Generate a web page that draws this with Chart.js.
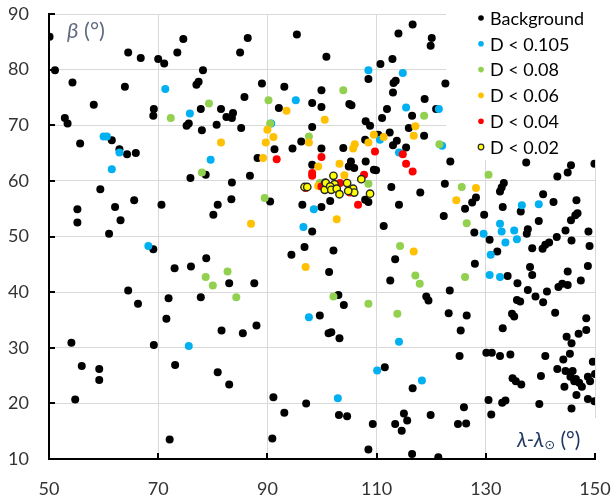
<!DOCTYPE html>
<html>
<head>
<meta charset="utf-8">
<script src="https://cdn.jsdelivr.net/npm/chart.js@4.4.1/dist/chart.umd.min.js"></script>
<style>
html, body { margin: 0; padding: 0; background: #fff; }
#wrap { width: 613px; height: 499px; position: relative; }
</style>
</head>
<body>
<div id="wrap"><canvas id="scatterChart"></canvas></div>
<script>
// axis ranges / ticks
const xRange = [50, 150];
const xStep = 20;
const yRange = [10, 90];
const yStep = 10;

const seriesLabels = ["Background", "D < 0.105", "D < 0.08", "D < 0.06", "D < 0.04", "D < 0.02"];
const seriesColors = ["#000000", "#00B0F0", "#92D050", "#FFC000", "#FF0000", "#FFFF00"];

// [λ-λsun, β] pairs
const background = [
    [50.1,85.9],[74.6,85.5],[64.5,83.1],[66.8,82.1],[70.0,81.9],[71.1,81.1],[73.5,83.1],[51.1,79.9],
    [54.3,77.7],[63.9,76.9],[58.2,73.7],[69.2,72.9],[69.1,71.7],[52.9,71.3],[53.4,70.3],[75.2,69.9],
    [75.6,70.3],[61.5,67.3],[55.7,66.7],[62.9,65.7],[64.3,64.8],[65.9,65.0],
    [75.9,60.5],[59.4,58.5],[55.2,54.9],[55.2,52.5],[62.1,55.3],[65.6,56.5],[70.6,55.7],[63.1,52.9],
    [61.0,50.5],[69.1,47.7],[73.0,44.3],[76.0,44.6],[64.5,40.3],[66.3,37.9],[71.9,38.9],
    [71.5,35.2],[54.1,30.9],[69.2,30.5],[56.0,26.7],[59.2,26.2],[59.2,24.2],[73.1,26.9],[54.8,20.7],[72.1,13.5],
    [86.4,85.7],[85.0,83.1],[95.4,86.3],[100.8,82.3],[78.2,79.9],[77.4,77.8],[77.0,77.3],[89.0,77.5],
    [93.1,76.9],[99.9,76.3],[85.8,75.1],[92.1,73.1],[98.2,74.0],[99.9,73.3],[77.8,72.9],[81.5,72.9],
    [83.7,72.2],[82.5,71.5],[83.5,71.3],[78.0,69.1],[80.7,70.1],[85.2,69.5],[98.2,69.7],[96.2,67.1],
    [94.6,65.8],[91.3,65.7],[99.9,65.8],[88.2,64.1],
    [98.2,62.9],[78.7,61.1],[83.5,59.7],[86.8,60.9],[90.5,56.3],[83.4,56.7],[80.9,55.7],[80.1,53.9],
    [96.4,55.7],[99.9,55.3],[98.2,50.9],[96.8,48.1],[94.4,46.7],[101.3,43.6],[78.8,46.1],[83.0,41.6],
    [87.6,41.6],[77.8,39.1],
    [99.6,35.8],[101.2,32.6],[81.6,33.1],[85.5,32.6],[88.0,34.0],[80.9,25.6],[83.0,23.4],[91.1,21.1],
    [93.1,18.3],[97.1,20.0],[90.9,13.7],
    [116.6,88.1],[114.0,86.5],[120.1,85.7],[119.9,84.3],[110.7,81.0],[112.9,81.9],[108.5,78.3],[113.5,78.0],
    [113.1,77.6],[113.0,75.9],[122.6,77.5],[105.0,73.8],[105.4,73.6],[118.8,74.7],[111.9,72.9],[111.0,71.3],
    [116.5,71.7],[120.9,72.9],[108.0,70.7],[108.8,69.9],[112.4,68.7],[115.9,69.5],[118.7,68.1],[110.3,68.3],
    [107.9,67.4],[103.9,65.9],[113.7,67.2],[113.0,66.4],[115.4,66.0],
    [105.3,63.5],[104.9,62.6],[105.9,62.3],[108.0,63.5],[123.5,63.5],[109.5,62.0],[109.9,61.9],[112.7,58.9],
    [118.0,57.9],[122.5,59.5],[126.2,55.0],[114.1,55.7],[122.3,53.7],[111.3,51.9],[107.9,56.6],[108.5,56.2],
    [101.5,56.4],[102.1,47.5],[113.4,45.9],[112.5,42.1],[103.0,39.5],[104.0,37.7],[119.1,39.2],[119.5,38.5],
    [123.4,40.3],
    [123.2,36.2],[126.5,35.8],[101.7,32.8],[103.2,31.7],[125.4,33.1],[125.2,28.5],[111.5,26.5],[116.6,22.7],
    [103.1,17.9],[104.6,17.7],[109.3,16.3],[113.4,16.3],[115.0,18.2],[115.6,16.9],[114.6,15.1],[119.9,17.9],
    [126.0,19.3],[124.9,16.3],[126.4,16.4],[108.5,11.7],[116.5,10.9],[121.3,10.3],
    [137.4,63.3],[145.6,62.8],[145.0,61.5],[143.1,60.8],[149.9,63.1],[133.3,59.6],[132.9,58.8],[132.6,58.1],
    [128.2,57.0],[127.5,56.1],[133.1,55.3],[140.5,57.6],[142.4,56.2],[146.6,56.5],[146.8,54.2],[146.4,53.8],
    [136.4,54.5],[129.7,53.9],[145.6,52.9],[139.7,52.8],[137.7,51.3],[137.5,50.5],[127.9,50.7],[130.7,49.4],
    [144.6,51.1],[148.8,50.9],[143.0,49.9],[145.7,49.3],[141.6,48.9],[140.9,48.5],[140.4,47.8],[138.5,47.9],
    [149.0,48.3],[132.1,47.3],[128.0,45.1],[138.1,44.5],[138.5,43.1],[145.0,43.7],[148.7,44.7],[134.0,42.9],
    [135.8,41.6],[147.4,42.1],[143.3,40.9],[144.0,41.5],[145.0,41.3],[137.7,40.4],[139.1,39.2],[141.2,40.1],
    [135.7,38.6],[136.3,38.3],[140.5,38.2],
    [134.8,36.1],[135.2,35.6],[142.7,36.3],[133.1,33.5],[148.4,35.3],[148.4,33.2],[147.0,32.5],[144.8,32.0],
    [145.7,30.8],[130.1,29.1],[131.1,29.1],[132.6,28.5],[134.5,28.8],[140.9,28.5],[145.4,28.9],[144.2,27.9],
    [149.6,27.5],[143.1,26.2],[144.6,25.8],[145.9,25.8],[145.5,24.8],[146.5,24.4],[146.2,24.0],[147.1,23.7],
    [147.6,23.0],[148.7,24.8],[150.0,25.3],[149.1,24.0],[144.4,23.0],[140.1,24.9],[134.9,24.5],[135.5,24.0],
    [136.5,23.4],[146.6,21.5],[148.7,20.8],[149.9,20.4],[145.7,19.1],[139.8,19.9],[133.0,20.1],[133.6,20.5],
    [130.5,20.6],[131.0,18.0]
];

const d0105 = [
    [71.3,76.5],[75.8,72.1],[60.0,68.0],[60.6,68.0],[62.9,65.1],[61.5,62.1],[68.2,48.3],[75.6,30.3],
    [95.2,74.5],[90.7,70.3],[79.6,63.8],[98.5,54.9],[96.6,51.7],[97.6,35.5],[108.5,79.9],[114.8,79.4],
    [115.4,73.2],[121.4,72.9],[110.6,67.4],[114.1,65.1],[122.0,66.3],[114.1,31.1],[110.1,25.9],[118.3,24.1],
    [102.9,20.9],[136.6,55.6],[139.7,55.8],[132.6,52.3],[132.9,50.9],[135.2,51.1],[129.6,50.5],[135.7,49.5],
    [133.6,48.9],[130.9,46.7],[130.7,43.1],[132.6,42.7]
];

const d008 = [
    [72.3,71.3],[79.3,73.9],[90.2,74.5],[90.5,70.3],[97.6,68.0],[78.0,61.5],[89.5,56.9],[78.7,42.7],
    [82.7,43.7],[80.0,41.2],[84.3,39.1],[103.9,76.3],[118.7,71.7],[121.5,66.6],[108.5,59.5],[125.6,58.9],
    [126.5,52.4],[114.3,48.3],[117.1,43.0],[117.9,41.5],[126.2,42.7],[102.1,39.2],[108.5,37.9],[113.8,36.1],
    [130.5,61.1],[99.6,59.6]
];

const d006 = [
    [93.5,72.6],[90.0,69.2],[91.1,67.9],[89.7,66.9],[81.5,66.9],[100.5,71.0],[97.6,66.9],[89.2,64.1],
    [99.3,62.6],[87.0,52.3],[97.0,44.5],[117.1,69.8],[116.8,68.1],[109.5,68.3],[111.3,67.9],[108.5,66.9],
    [106.0,66.6],[105.7,65.8],[103.2,63.1],[104.1,61.0],[124.6,56.5],[102.7,53.1],[116.8,47.3],[128.2,58.7],
    [99.3,59.1]
];

const d004 = [
    [99.9,64.3],[91.7,63.9],[98.2,61.4],[98.2,60.9],[109.7,65.3],[114.8,64.8],[115.4,63.1],[116.6,61.7],
    [107.7,61.1],[106.6,55.7],[103.3,59.6],[105.1,57.9],[97.0,58.7],[99.9,59.0]
];

const d002 = [
    [96.8,58.9],[97.3,58.9],[100.6,59.7],[100.5,58.4],[102.1,60.9],[100.7,59.6],[102.3,59.4],[101.5,59.0],
    [101.7,58.4],[102.7,58.6],[103.2,57.6],[104.6,59.6],[105.7,58.6],[105.9,57.9],[104.8,58.2],[107.2,60.3],
    [108.8,57.7]
];

const allSeries = [background, d0105, d008, d006, d004, d002];

const toXY = pts => pts.map(p => ({ x: p[0], y: p[1] }));

const datasets = allSeries.map((pts, i) => ({
    label: seriesLabels[i],
    data: toXY(pts),
    backgroundColor: seriesColors[i],
    borderColor: i === 5 ? "#262626" : seriesColors[i],
    borderWidth: i === 5 ? 1.4 : 0,
    pointRadius: i === 5 ? 3.7 : 4,
    order: 5 - i
}));

// white boxes behind legend and in-plot axis titles, inward tick marks
const overlayPlugin = {
    id: "overlay",
    beforeDatasetsDraw(chart) {
        const c = chart.ctx;
        const area = chart.chartArea;
        c.save();
        c.fillStyle = "#fff";
        c.fillRect(446, 0, 170, 160);
        c.fillRect(55, area.top + 1, 62, 36);
        c.fillRect(505, 418, 100, area.bottom - 419);
        // inward ticks
        c.strokeStyle = "#000";
        c.lineWidth = 2;
        const xs = chart.scales.x, ys = chart.scales.y;
        c.beginPath();
        ys.ticks.forEach(t => {
            const py = Math.round(ys.getPixelForValue(t.value));
            c.moveTo(area.left, py);
            c.lineTo(area.left + 6, py);
        });
        xs.ticks.forEach(t => {
            const px = Math.round(xs.getPixelForValue(t.value));
            c.moveTo(px, area.bottom);
            c.lineTo(px, area.bottom - 6);
        });
        c.stroke();
        c.restore();
    },
    afterDatasetsDraw(chart) {
        const c = chart.ctx;
        c.save();
        // legend
        c.textBaseline = "middle";
        c.font = "18px Lato";
        seriesLabels.forEach((lab, i) => {
            const y = 18 + i * 25.8;
            c.beginPath();
            c.arc(481, y, 2.8, 0, Math.PI * 2);
            c.fillStyle = seriesColors[i];
            c.fill();
            if (i === 5) {
                c.lineWidth = 1.2;
                c.strokeStyle = "#262626";
                c.stroke();
            }
            c.fillStyle = "#000";
            c.fillText(lab, 490, y + 1);
        });
        // beta title
        c.fillStyle = "#5f6b80";
        c.font = "italic 22px Lato";
        c.fillText("β", 67, 31);
        let w = c.measureText("β").width;
        c.font = "22px Lato";
        c.fillText(" (°)", 67 + w, 31);
        // lambda title
        c.fillStyle = "#203864";
        c.font = "italic 21px Lato";
        let x = 517;
        c.fillText("λ-λ", x, 440);
        x += c.measureText("λ-λ").width;
        c.font = "italic 13px DejaVu Sans";
        c.fillText("⊙", x, 446);
        x += c.measureText("⊙").width;
        c.font = "21px Lato";
        c.fillText(" (°)", x, 440);
        c.restore();
    }
};

const ctx = document.getElementById("scatterChart");

window.scatterChart = new Chart(ctx, {
    type: "scatter",
    data: { datasets: datasets },
    options: {
        responsive: true,
        maintainAspectRatio: false,
        animation: false,
        layout: { padding: { left: 0, top: 14, right: 18, bottom: 0 } },
        plugins: {
            legend: { display: false },
            tooltip: { enabled: false }
        },
        scales: {
            x: {
                type: "linear",
                min: xRange[0],
                max: xRange[1],
                ticks: { stepSize: xStep, color: "#333", font: { family: "Lato", size: 18 }, padding: 19 },
                grid: { color: "#d9d9d9", drawTicks: false },
                border: { color: "#000", width: 2 },
                afterFit: s => { s.height = 40; s.paddingLeft = 0; s.paddingRight = 0; }
            },
            y: {
                min: yRange[0],
                max: yRange[1],
                ticks: { stepSize: yStep, color: "#333", font: { family: "Lato", size: 18 }, padding: 20 },
                grid: { color: "#d9d9d9", drawTicks: false },
                border: { color: "#000", width: 2 },
                afterFit: s => { s.width = 49; s.paddingTop = 0; s.paddingBottom = 0; }
            }
        }
    },
    plugins: [overlayPlugin]
});
</script>
</body>
</html>
